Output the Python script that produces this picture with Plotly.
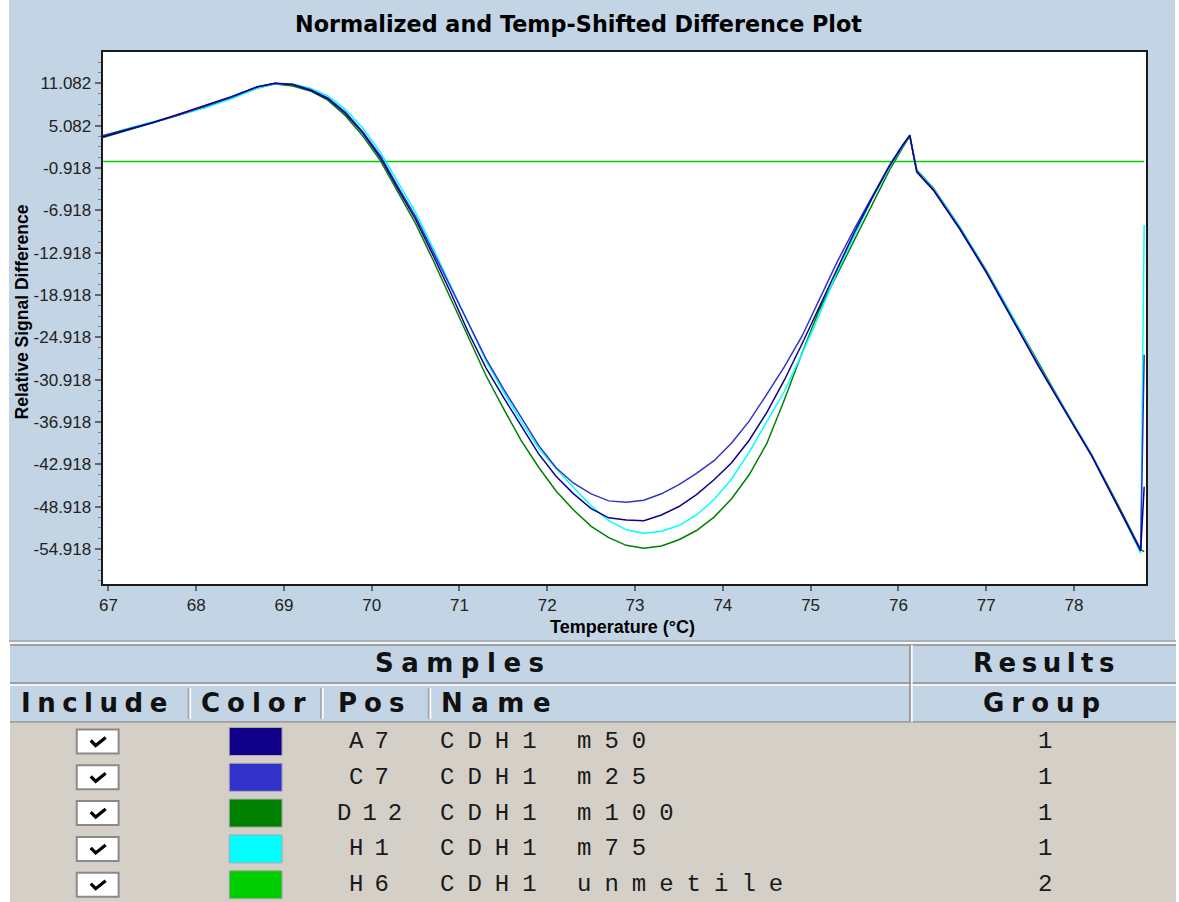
import plotly.graph_objects as go

# ---------------- data ----------------
temperature = [66.94, 67.2, 67.5, 67.8, 68.1, 68.4, 68.7, 68.9, 69.1, 69.3, 69.5, 69.7, 69.9, 70.1,
               70.3, 70.5, 70.7, 70.9, 71.1, 71.3, 71.5, 71.7, 71.9, 72.1, 72.3, 72.5, 72.7, 72.9,
               73.1, 73.3, 73.5, 73.7, 73.9, 74.1, 74.3, 74.5, 74.7, 74.9, 75.1, 75.3, 75.5, 75.7,
               75.9, 76.05, 76.13, 76.17, 76.21, 76.4, 76.7, 77.0, 77.3, 77.6, 77.9, 78.2, 78.5,
               78.76, 78.8]

a7_m50 = [3.5, 4.4, 5.5, 6.7, 7.9, 9.2, 10.6, 11.1, 10.9, 10.1, 8.9, 6.8, 4.0, 0.5,
          -3.9, -8.2, -13.3, -18.6, -24.2, -29.2, -33.4, -37.5, -41.4, -44.6, -47.1, -49.2, -50.5, -50.8,
          -50.9, -50.1, -48.9, -47.2, -45.1, -42.7, -39.5, -35.6, -31.0, -25.9, -20.6, -15.3, -10.0, -5.2,
          -0.6, 2.3, 3.7, 1.0, -1.5, -4.1, -9.6, -15.7, -22.3, -29.1, -35.4, -41.7, -48.9,
          -55.2, -46.1]

c7_m25 = [3.7, 4.5, 5.5, 6.6, 7.8, 9.1, 10.6, 11.1, 10.9, 10.2, 9.0, 7.0, 4.2, 0.8,
          -3.6, -7.8, -12.8, -17.9, -23.0, -27.9, -32.2, -36.3, -40.2, -43.4, -45.6, -47.1, -48.1, -48.3,
          -48.0, -47.1, -45.8, -44.2, -42.4, -39.9, -36.8, -33.0, -29.1, -24.8, -19.6, -14.3, -9.5, -4.9,
          -0.5, 2.4, 3.7, 1.1, -1.4, -4.0, -9.5, -15.6, -22.2, -29.0, -35.3, -41.6, -48.8,
          -55.0, -27.4]

d12_m100 = [3.4, 4.4, 5.5, 6.6, 7.7, 9.0, 10.4, 11.0, 10.7, 10.0, 8.7, 6.5, 3.6, 0.1,
            -4.4, -8.8, -14.0, -19.4, -25.0, -30.3, -35.0, -39.5, -43.3, -46.7, -49.4, -51.7, -53.3, -54.4,
            -54.8, -54.5, -53.6, -52.3, -50.4, -47.8, -44.4, -40.0, -33.8, -27.2, -21.0, -16.0, -11.0, -6.0,
            -1.2, 2.0, 3.6, 1.2, -1.2, -3.8, -9.3, -15.4, -22.0, -28.8, -35.2, -41.5, -48.6,
            -55.0, -55.3]

h1_m75 = [3.6, 4.6, 5.6, 6.6, 7.6, 8.9, 10.4, 11.0, 11.0, 10.4, 9.3, 7.4, 4.7, 1.3,
          -3.0, -7.2, -12.3, -17.6, -23.0, -28.2, -32.6, -36.8, -40.6, -43.5, -46.2, -48.8, -50.9, -52.2,
          -52.7, -52.4, -51.6, -50.1, -47.9, -45.0, -41.2, -36.9, -32.6, -27.3, -21.7, -15.7, -10.4, -5.3,
          -0.8, 2.2, 3.8, 1.2, -1.3, -3.9, -9.3, -15.5, -22.0, -28.9, -35.2, -41.5, -48.8,
          -55.5, -9.0]

h6_unmetile = [0.0] * len(temperature)

sample_include = [True, True, True, True, True]
sample_pos = ["A7", "C7", "D12", "H1", "H6"]
sample_name = ["CDH1 m50", "CDH1 m25", "CDH1 m100", "CDH1 m75", "CDH1 unmetile"]
sample_group = ["1", "1", "1", "1", "2"]
sample_color = ["#10008a", "#3333cc", "#008000", "#00ffff", "#00cc00"]
sample_values = [a7_m50, c7_m25, d12_m100, h1_m75, h6_unmetile]

y_tick_values = [-54.918, -48.918, -42.918, -36.918, -30.918, -24.918, -18.918, -12.918,
                 -6.918, -0.918, 5.082, 11.082]
y_tick_labels = ["%.3f" % v for v in y_tick_values]
x_tick_values = [67, 68, 69, 70, 71, 72, 73, 74, 75, 76, 77, 78]

# ---------------- figure ----------------
W, H = 1179, 902


def px(x):
    return x / W


def py(y):
    return 1 - y / H


fig = go.Figure()

draw_order = [4, 2, 3, 1, 0]
for i in draw_order:
    fig.add_trace(go.Scatter(
        x=temperature, y=sample_values[i], mode="lines",
        name=sample_pos[i] + " " + sample_name[i],
        line=dict(color=sample_color[i], width=1.5),
        showlegend=False, hoverinfo="skip",
    ))

shapes = []
annotations = []

# chart panel background
shapes.append(dict(type="rect", xref="paper", yref="paper", x0=px(5), x1=px(1175), y0=py(640), y1=py(0),
                   fillcolor="#c3d4e5", line=dict(width=0), layer="below"))
# plot area (white)
shapes.append(dict(type="rect", xref="paper", yref="paper", x0=px(99), x1=px(1146), y0=py(584), y1=py(52),
                   fillcolor="#ffffff", line=dict(width=0), layer="below"))
shapes.append(dict(type="line", xref="paper", yref="paper", x0=px(5), x1=px(1176), y0=py(641), y1=py(641),
                   line=dict(color="#8d979f", width=1.5)))
shapes.append(dict(type="line", xref="paper", yref="paper", x0=px(5), x1=px(1176), y0=py(643), y1=py(643),
                   line=dict(color="#f2f4f6", width=1.5)))

# table header
shapes.append(dict(type="rect", xref="paper", yref="paper", x0=px(6), x1=px(1176), y0=py(722), y1=py(644),
                   fillcolor="#c3d4e5", line=dict(width=0), layer="below"))
for yy, col in [(645, "#8f8f8f"), (683, "#8f8f8f"), (685, "#ffffff"), (722, "#8f8f8f")]:
    shapes.append(dict(type="line", xref="paper", yref="paper", x0=px(6), x1=px(1176), y0=py(yy), y1=py(yy),
                       line=dict(color=col, width=1.5)))
shapes.append(dict(type="line", xref="paper", yref="paper", x0=px(909), x1=px(909), y0=py(645), y1=py(722),
                   line=dict(color="#8f8f8f", width=1.5)))
shapes.append(dict(type="line", xref="paper", yref="paper", x0=px(911), x1=px(911), y0=py(645), y1=py(722),
                   line=dict(color="#ffffff", width=1.5)))
for xx in [185, 318, 426]:
    shapes.append(dict(type="line", xref="paper", yref="paper", x0=px(xx), x1=px(xx), y0=py(688), y1=py(719),
                       line=dict(color="#a5a5a5", width=1.5)))
    shapes.append(dict(type="line", xref="paper", yref="paper", x0=px(xx + 2), x1=px(xx + 2), y0=py(688), y1=py(719),
                       line=dict(color="#ffffff", width=1.5)))

# table body
shapes.append(dict(type="rect", xref="paper", yref="paper", x0=px(6), x1=px(1176), y0=py(902), y1=py(723),
                   fillcolor="#d4d0c8", line=dict(width=0), layer="below"))

HEAD_FONT = dict(family="DejaVu Sans", size=26, color="#111111", weight="bold")
MONO_FONT = dict(family="Liberation Mono", size=24, color="#1a1a1a")


def spaced(t, sp):
    return '<span style="letter-spacing:%spx">%s</span>' % (sp, t)


def ann(x, y, text, font, xanchor="center", yanchor="middle", **kw):
    d = dict(xref="paper", yref="paper", x=px(x), y=py(y), text=text, showarrow=False,
             xanchor=xanchor, yanchor=yanchor, font=font)
    d.update(kw)
    annotations.append(d)


ann(461, 663, spaced("Samples", 7.5), HEAD_FONT)
ann(1046, 663, spaced("Results", 5.5), HEAD_FONT)
ann(94, 703, spaced("Include", 6.5), HEAD_FONT)
ann(254, 703, spaced("Color", 7), HEAD_FONT)
ann(372, 703, spaced("Pos", 7), HEAD_FONT)
ann(436, 703, spaced("Name", 8.5), HEAD_FONT, xanchor="left")
ann(1045, 703, spaced("Group", 7), HEAD_FONT)

row_y0 = 741.5
row_dy = 35.8
for r in range(len(sample_pos)):
    cy = row_y0 + r * row_dy
    # checkbox
    shapes.append(dict(type="rect", xref="paper", yref="paper", x0=px(73), x1=px(115), y0=py(cy + 12), y1=py(cy - 12),
                       fillcolor="#ffffff", line=dict(color="#8a8a8a", width=2)))
    if sample_include[r]:
        shapes.append(dict(type="path", xref="paper", yref="paper",
                           path="M %f %f L %f %f L %f %f" % (px(87), py(cy - 1), px(92), py(cy + 4), px(102), py(cy - 4)),
                           line=dict(color="#000000", width=3.2)))
    # colour swatch
    shapes.append(dict(type="rect", xref="paper", yref="paper", x0=px(226), x1=px(279), y0=py(cy + 14), y1=py(cy - 14),
                       fillcolor=sample_color[r], line=dict(color="#a8a8a8", width=1)))
    ann(372, cy, spaced(sample_pos[r], 11), MONO_FONT)
    ann(435, cy, spaced(sample_name[r], 13), MONO_FONT, xanchor="left")
    ann(1050, cy, spaced(sample_group[r], 10), MONO_FONT)

# chart titles
ann(576, 24, "Normalized and Temp-Shifted Difference Plot",
    dict(family="DejaVu Sans", size=22.3, color="#000000", weight="bold"))
ann(621, 627, "Temperature (°C)", dict(family="Liberation Sans", size=18, color="#000000", weight="bold"))
ann(18, 311.5, "Relative Signal Difference", dict(family="Liberation Sans", size=17.5, color="#000000", weight="bold"),
    textangle=-90)

fig.update_layout(
    width=W, height=H,
    margin=dict(l=0, r=0, t=0, b=0),
    paper_bgcolor="#ffffff",
    plot_bgcolor="#ffffff",
    shapes=shapes,
    annotations=annotations,
    xaxis=dict(
        domain=[px(99), px(1146)],
        range=[66.935, 78.822],
        tickmode="array", tickvals=x_tick_values, ticktext=[str(v) for v in x_tick_values],
        ticks="outside", ticklen=5, tickcolor="#666666", tickwidth=1.5,
        showline=True, linecolor="#1a1a1a", linewidth=2, mirror=True,
        showgrid=False, zeroline=False,
        tickfont=dict(family="Liberation Sans", size=17, color="#222222"),
    ),
    yaxis=dict(
        domain=[py(584), py(52)],
        range=[-59.88, 15.52],
        tickmode="array", tickvals=y_tick_values, ticktext=y_tick_labels,
        ticks="outside", ticklen=6, tickcolor="#666666", tickwidth=1.5,
        minor=dict(tickmode="linear", tick0=y_tick_values[0], dtick=1.5, ticks="outside",
                   ticklen=3, tickcolor="#888888", tickwidth=1.2),
        showline=True, linecolor="#1a1a1a", linewidth=2, mirror=True,
        showgrid=False, zeroline=False,
        tickfont=dict(family="Liberation Sans", size=17, color="#222222"),
    ),
)

fig.write_html("out.html")
